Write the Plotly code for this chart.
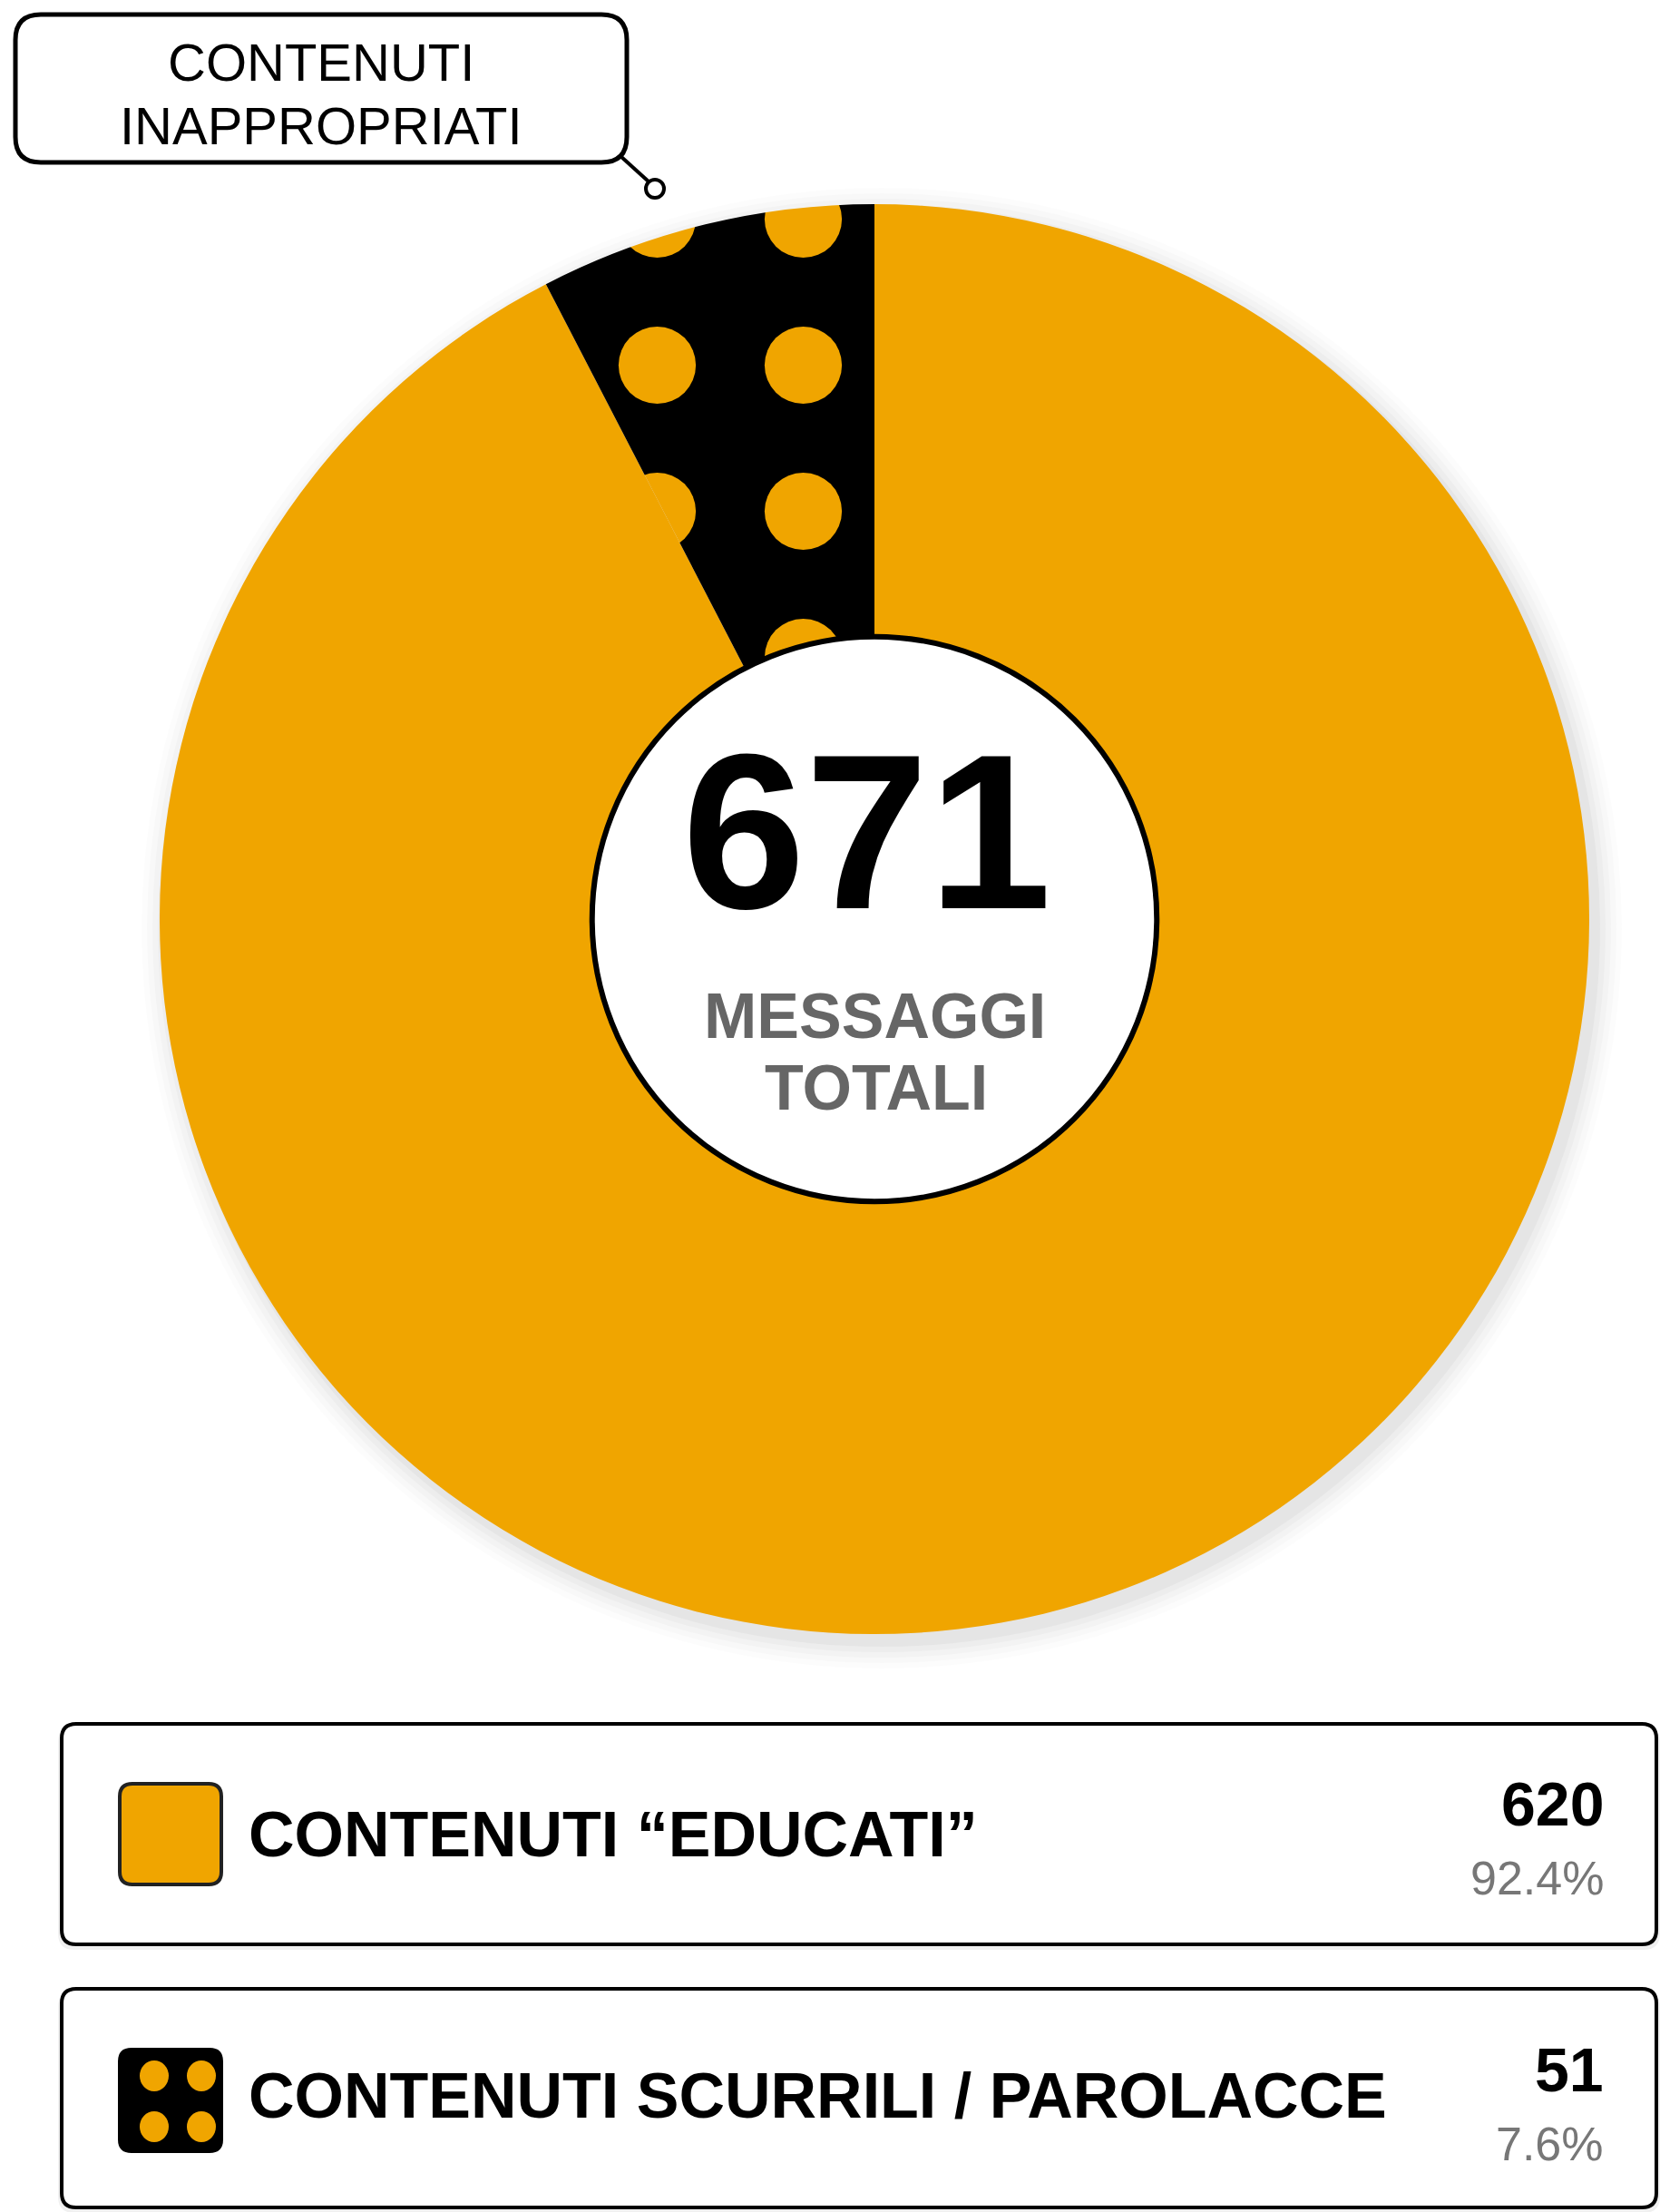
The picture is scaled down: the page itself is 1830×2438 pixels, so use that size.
import plotly.graph_objects as go

# data
categories = ["CONTENUTI \u201cEDUCATI\u201d", "CONTENUTI SCURRILI / PAROLACCE"]
counts = [620, 51]
center_label = ["MESSAGGI", "TOTALI"]
callout_label = ["CONTENUTI", "INAPPROPRIATI"]

ORANGE = "#F0A500"
BLACK = "#000000"
W, H = 1830, 2438

total = sum(counts)
pcts = [c / total * 100 for c in counts]

# pie geometry (pixels, y from top)
cx, cy, R = 964, 1013, 788
hole = 0.395


def rounded_rect(x0, y0, x1, y1, r):
    return (f"M{x0+r},{y0} L{x1-r},{y0} Q{x1},{y0} {x1},{y0+r} "
            f"L{x1},{y1-r} Q{x1},{y1} {x1-r},{y1} L{x0+r},{y1} "
            f"Q{x0},{y1} {x0},{y1-r} L{x0},{y0+r} Q{x0},{y0} {x0+r},{y0} Z")


fig = go.Figure()

# orange slice starts at 12 o'clock clockwise, so the black one ends up just left of it
fig.add_trace(go.Pie(
    labels=categories,
    values=counts,
    sort=False,
    direction="clockwise",
    rotation=0,
    hole=hole,
    textinfo="none",
    hoverinfo="label+value+percent",
    showlegend=False,
    marker=dict(
        colors=[ORANGE, BLACK],
        line=dict(width=0),
        pattern=dict(shape=["", "."], fillmode="overlay",
                     fgcolor=ORANGE, fgopacity=1, size=161, solidity=0.22),
    ),
    domain=dict(x=[(cx - R) / W, (cx + R) / W],
                y=[(H - cy - R) / H, (H - cy + R) / H]),
))

shapes = []

# soft shadow behind the pie
for i, a in enumerate([0.03, 0.025, 0.02, 0.015, 0.01]):
    rr = R + 4 + i * 6
    shapes.append(dict(type="circle", layer="below", xref="x", yref="y",
                       x0=cx + 8 - rr, x1=cx + 8 + rr, y0=cy + 10 - rr, y1=cy + 10 + rr,
                       fillcolor=f"rgba(0,0,0,{a})", line=dict(width=0)))

# hole ring
rh = R * hole
shapes.append(dict(type="circle", xref="x", yref="y",
                   x0=cx - rh, x1=cx + rh, y0=cy - rh, y1=cy + rh,
                   fillcolor="white", line=dict(color=BLACK, width=6)))

# callout box + connector
shapes.append(dict(type="path", xref="x", yref="y",
                   path=rounded_rect(17, 16, 691, 179, 28),
                   fillcolor="white", line=dict(color=BLACK, width=5)))
shapes.append(dict(type="line", xref="x", yref="y", x0=684, y0=172, x1=716, y1=201,
                   line=dict(color=BLACK, width=4)))
shapes.append(dict(type="circle", xref="x", yref="y", x0=712, x1=732, y0=198, y1=218,
                   fillcolor="white", line=dict(color=BLACK, width=4)))

# legend boxes
boxes = [(1900, 2143), (2192, 2433)]
for y0, y1 in boxes:
    shapes.append(dict(type="path", xref="x", yref="y", layer="below",
                       path=rounded_rect(64, y0 + 2, 1830, y1 + 6, 18),
                       fillcolor="rgba(0,0,0,0.06)", line=dict(width=0)))
    shapes.append(dict(type="path", xref="x", yref="y",
                       path=rounded_rect(68, y0, 1826, y1, 16),
                       fillcolor="white", line=dict(color=BLACK, width=4)))

# swatch 1: plain orange
shapes.append(dict(type="path", xref="x", yref="y",
                   path=rounded_rect(132, 1966, 244, 2077, 14),
                   fillcolor=ORANGE, line=dict(color="#222", width=4)))
# swatch 2: black with orange dots
shapes.append(dict(type="path", xref="x", yref="y",
                   path=rounded_rect(131, 2258, 245, 2372, 14),
                   fillcolor=BLACK, line=dict(color=BLACK, width=2)))
for dx in (170, 222):
    for dy in (2288, 2344):
        shapes.append(dict(type="circle", xref="x", yref="y",
                           x0=dx - 16, x1=dx + 16, y0=dy - 17, y1=dy + 17,
                           fillcolor=ORANGE, line=dict(width=0)))

annotations = []


def txt(x, y, s, size, color=BLACK, bold=False, xanchor="center", family="Liberation Sans"):
    annotations.append(dict(
        x=x, y=y, xref="x", yref="y", showarrow=False,
        text=f"<b>{s}</b>" if bold else s,
        xanchor=xanchor, yanchor="middle",
        font=dict(family=family, size=size, color=color)))


# callout text
txt(354, 68, callout_label[0], 58)
txt(354, 138, callout_label[1], 58)

# center text
txt(955, 916, f"{total}", 244, bold=True)
txt(964, 1120, center_label[0], 70, color="#666666", bold=True)
txt(966, 1199, center_label[1], 70, color="#666666", bold=True)

# legend text: (index, label y, count y, percent y)
legend_rows = [(0, 2022, 1988, 2070), (1, 2310, 2281, 2363)]
for idx, ly, ny, py in legend_rows:
    txt(272, ly, categories[idx], 70, bold=True, xanchor="left")
    txt(1770, ny, f"{counts[idx]}", 68, bold=True, xanchor="right")
    txt(1770, py, f"{pcts[idx]:.1f}%", 52, color="#777777", xanchor="right")

fig.update_layout(
    width=W, height=H,
    margin=dict(l=0, r=0, t=0, b=0),
    paper_bgcolor="white",
    plot_bgcolor="rgba(0,0,0,0)",
    xaxis=dict(range=[0, W], visible=False, fixedrange=True),
    yaxis=dict(range=[H, 0], visible=False, fixedrange=True),
    shapes=shapes,
    annotations=annotations,
    showlegend=False,
)

fig.write_html("out.html", config={"displayModeBar": False},
               post_script="document.body.style.margin='0';")
